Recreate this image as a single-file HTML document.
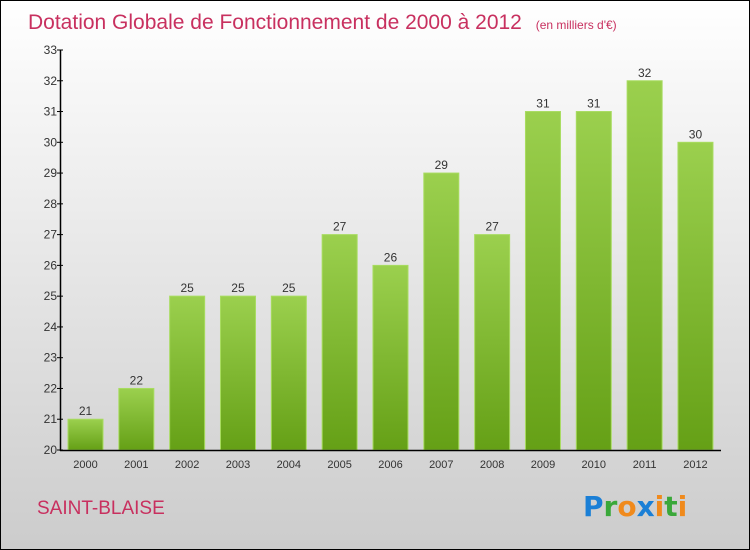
<!DOCTYPE html>
<html><head><meta charset="utf-8"><style>
body{margin:0}
#c{width:748px;height:548px;border:1px solid #000;background:linear-gradient(#fff,#ccc);position:relative;font-family:"Liberation Sans",sans-serif;overflow:hidden}
</style></head><body>
<div id="c">
<svg width="748" height="548">
<defs><linearGradient id="g" x1="0" y1="0" x2="0" y2="1"><stop offset="0" stop-color="#9bd04e"/><stop offset="1" stop-color="#65a016"/></linearGradient></defs>
<text x="27" y="28" font-size="21" fill="#c8305f">Dotation Globale de Fonctionnement de 2000 à 2012 <tspan font-size="12" dx="8">(en milliers d'€)</tspan></text>
<text x="36" y="513" font-size="19" fill="#c8305f">SAINT-BLAISE</text>
<text x="582" y="515" font-size="28" font-weight="bold" font-family="DejaVu Sans"><tspan fill="#1a7fd6">P</tspan><tspan fill="#3aa83a">r</tspan><tspan fill="#f08a1c">o</tspan><tspan fill="#1a7fd6">x</tspan><tspan fill="#f08a1c">i</tspan><tspan fill="#3aa83a">t</tspan><tspan fill="#f08a1c">i</tspan></text>
<g id="plot"></g>
</svg></div>
<script>
const years=["2000","2001","2002","2003","2004","2005","2006","2007","2008","2009","2010","2011","2012"];
const values=[21,22,25,25,25,27,26,29,27,31,31,32,30];
const yTicks=[20,21,22,23,24,25,26,27,28,29,30,31,32,33];
const ns="http://www.w3.org/2000/svg";
const g=document.getElementById('plot');
const y=v=>449-(v-20)*30.77;
const x=i=>67+i*50.83;
function el(t,a,txt){const e=document.createElementNS(ns,t);for(const k in a)e.setAttribute(k,a[k]);if(txt!=null)e.textContent=txt;g.appendChild(e);return e;}
values.forEach((v,i)=>{
 const r=el('rect',{x:x(i),y:y(v),width:35,height:449-y(v),fill:'url(#g)',stroke:'#a8dc60','stroke-width':1});
 
 
 const t=el('text',{x:x(i)+17.5,y:y(v)-4,'font-size':12,fill:'#333','text-anchor':'middle'},v);
 
 
 const xl=el('text',{x:x(i)+17.5,y:467,'font-size':11,fill:'#333','text-anchor':'middle'},years[i]);
 
 
});
yTicks.forEach(v=>{
 el('line',{x1:56,x2:62,y1:y(v),y2:y(v),stroke:'#000'});
 const t=el('text',{x:56,y:y(v)+4,'font-size':12,fill:'#333','text-anchor':'end'},v);
 
 
});
const ya=el('line',{x1:59.5,x2:59.5,y1:y(33),y2:450,stroke:'#000','stroke-width':1.5});


const xa=el('line',{x1:59,x2:720,y1:449.5,y2:449.5,stroke:'#000','stroke-width':1.5});


</script>
</body></html>
